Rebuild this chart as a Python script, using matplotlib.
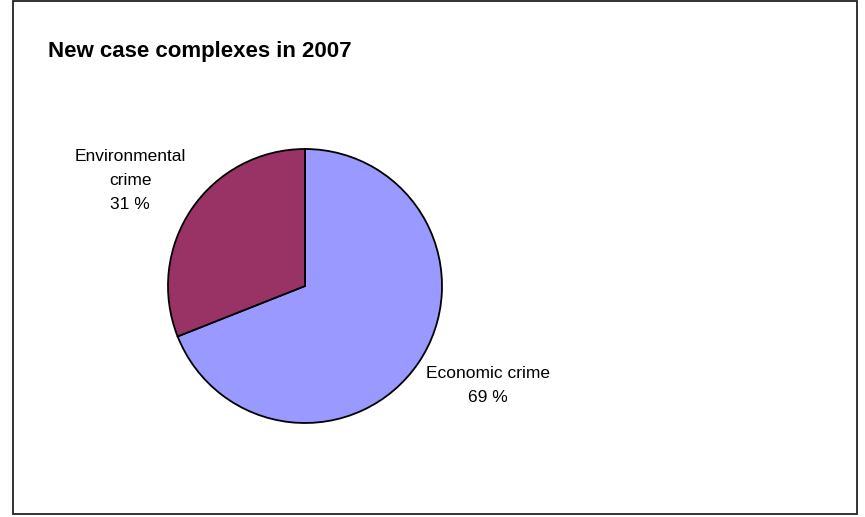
import matplotlib
matplotlib.use("Agg")
import matplotlib.pyplot as plt
from matplotlib.patches import Rectangle

plt.rcParams["font.family"] = ["Liberation Sans", "DejaVu Sans"]

title = "New case complexes in 2007"
categories = ["Economic crime", "Environmental\ncrime"]
shares = [69, 31]
colors = ["#9999FF", "#993366"]

W, H = 865, 517
fig = plt.figure(figsize=(W / 100, H / 100), dpi=100)
fig.patch.set_facecolor("white")

# chart-area border
fig.patches.append(Rectangle((13 / W, 3.5 / H), 844 / W, 513 / H,
                             transform=fig.transFigure, fill=False,
                             edgecolor="#222222", linewidth=1.3))

fig.text(48 / W, 1 - 57 / H, title, fontsize=16, fontweight="bold",
         ha="left", va="baseline")

# pie box (pixels): center (305, 286), radius 137
cx, cy, r = 305, 286, 137
ax = fig.add_axes([(cx - r) / W, (H - cy - r) / H, 2 * r / W, 2 * r / H])
ax.pie(shares, colors=colors, startangle=90, counterclock=False,
       wedgeprops=dict(edgecolor="black", linewidth=1.3))
ax.set_xlim(-1, 1)
ax.set_ylim(-1, 1)
ax.set_aspect("auto")
ax.axis("off")

# label anchor points in pixels
label_pos = [(488, 385), (130, 181)]
for name, v, (lx, ly) in zip(categories, shares, label_pos):
    fig.text(lx / W, 1 - ly / H, f"{name}\n{v} %", fontsize=12.5,
             ha="center", va="center", linespacing=1.75)

fig.savefig("out.png", dpi=100, facecolor="white")
